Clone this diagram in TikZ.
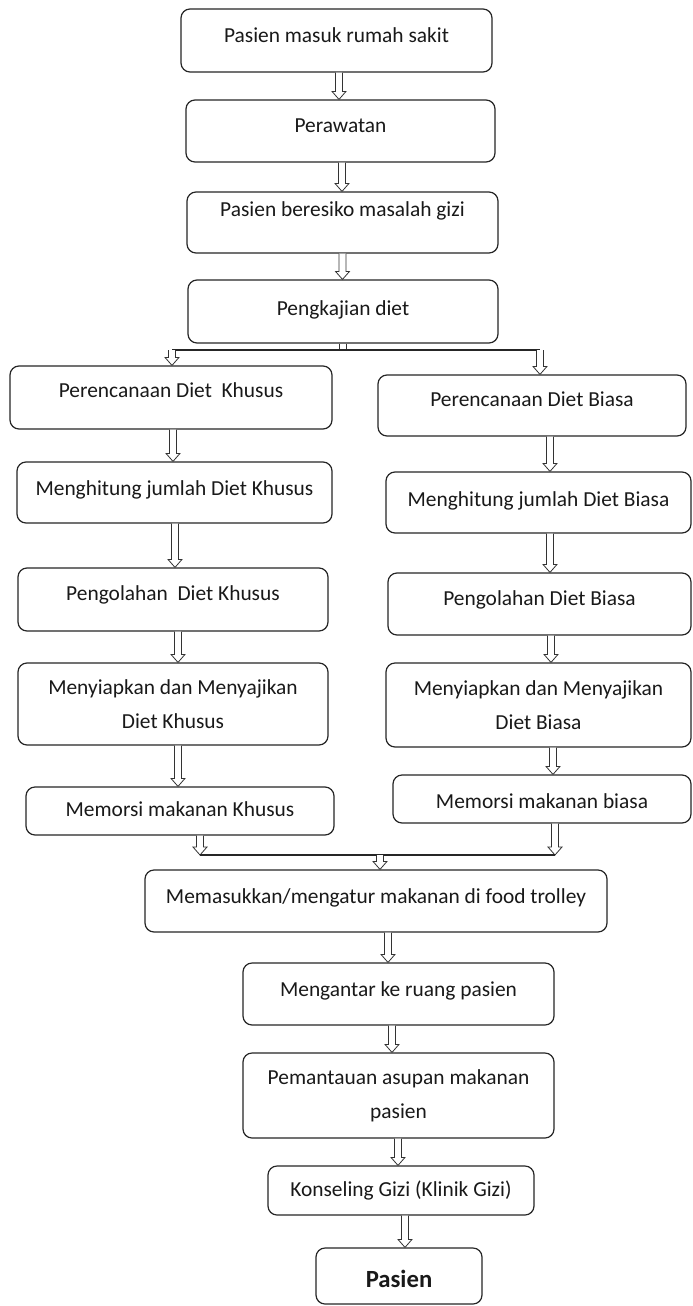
\documentclass[tikz,border=0pt]{standalone}
\usepackage{fontspec}
\setmainfont{Carlito}
\usetikzlibrary{calc}
\tikzset{
  box/.style={draw=black!85, line width=1.2pt, rounded corners=9pt, align=center, inner sep=0pt,
    font=\fontsize{21.4}{34}\selectfont, text=black!90},
  bl/.style={text height=20pt, text depth=#1},
  harrow/.style={draw=black!80, line width=0.8pt, fill=white,
    to path={let \p1=(\tikztostart), \p2=(\tikztotarget) in
      (\x1-3.5pt,\y1) -- (\x1-3.5pt,\y2+8pt) -- (\x1-7pt,\y2+8pt) -- (\x1,\y2)
      -- (\x1+7pt,\y2+8pt) -- (\x1+3.5pt,\y2+8pt) -- (\x1+3.5pt,\y1)}},
  shaft/.style={draw=black!80, line width=0.8pt,
    to path={let \p1=(\tikztostart), \p2=(\tikztotarget) in
      (\x1-3.5pt,\y1) -- (\x1-3.5pt,\y2) (\x1+3.5pt,\y1) -- (\x1+3.5pt,\y2)}},
  hline/.style={draw=black!85, line width=1.1pt}
}
\begin{document}
\begin{tikzpicture}[x=1pt,y=-1pt]
\fill[white] (0,0) rectangle (693,1306);
\useasboundingbox (0,0) rectangle (693,1306);

% main column top
\node[box, bl=15pt, minimum width=311pt, minimum height=63pt] (b1) at (336.5,40.5) {Pasien masuk rumah sakit};
\node[box, bl=18pt, minimum width=309pt, minimum height=62pt] (b2) at (340.5,131) {Perawatan};
\node[box, bl=32pt, minimum width=311pt, minimum height=61pt] (b3) at (342.5,222.5) {Pasien beresiko masalah gizi};
\node[box, bl=13pt, minimum width=310pt, minimum height=63pt] (b4) at (343,311.5) {Pengkajian diet};

% left column
\node[box, bl=20pt, minimum width=322pt, minimum height=63pt] (l1) at (171,397.5) {Perencanaan Diet~ Khusus};
\node[box, bl=15pt, minimum width=315pt, minimum height=61pt] (l2) at (174.5,492.5) {Menghitung jumlah Diet Khusus};
\node[box, bl=19pt, minimum width=310pt, minimum height=63pt] (l3) at (173,599.5) {Pengolahan~ Diet Khusus};
\node[box, minimum width=310pt, minimum height=82pt] (l4) at (173,704) {Menyiapkan dan Menyajikan\\Diet Khusus};
\node[box, bl=8.6pt, minimum width=308pt, minimum height=48pt] (l5) at (180,811) {Memorsi makanan Khusus};

% right column
\node[box, bl=17.6pt, minimum width=308pt, minimum height=61pt] (r1) at (532,405.5) {Perencanaan Diet Biasa};
\node[box, bl=11.6pt, minimum width=305pt, minimum height=61pt] (r2) at (538.5,502.5) {Menghitung jumlah Diet Biasa};
\node[box, bl=18pt, minimum width=303pt, minimum height=62pt] (r3) at (539.5,604) {Pengolahan Diet Biasa};
\node[box, minimum width=305pt, minimum height=84pt] (r4) at (538.5,705) {Menyiapkan dan Menyajikan\\Diet Biasa};
\node[box, bl=2pt, minimum width=298pt, minimum height=48pt] (r5) at (542,799) {Memorsi makanan biasa};

% bottom column
\node[box, bl=15.4pt, minimum width=462pt, minimum height=62pt] (m1) at (376,901) {Memasukkan/mengatur makanan di food trolley};
\node[box, bl=14.6pt, minimum width=311pt, minimum height=62pt] (m2) at (398.5,994) {Mengantar ke ruang pasien};
\node[box, minimum width=311pt, minimum height=85pt] (m3) at (398.5,1095.5) {Pemantauan asupan makanan\\pasien};
\node[box, bl=8pt, minimum width=266pt, minimum height=49pt] (m4) at (401,1190.5) {Konseling Gizi (Klinik Gizi)};
\node[box, text height=26pt, text depth=4pt, minimum width=166pt, minimum height=56pt,
      font=\fontsize{24.7}{30}\selectfont\bfseries] (m5) at (399,1276) {Pasien};

% junction points
\coordinate (splitC) at (343,350);
\coordinate (splitL) at (172,350);
\coordinate (splitR) at (540,350);
\coordinate (mergeL) at (200,855);
\coordinate (mergeR) at (555,855);
\coordinate (mergeC) at (380,855);

% arrows top
\draw[harrow] ([xshift=2.5pt]b1.south) to (b2.north);
\draw[harrow] ([xshift=1.5pt]b2.south) to (b3.north);
\draw[harrow] (b3.south) to (b4.north);
\draw[shaft] (b4.south) to (splitC);
\draw[hline] (splitL) -- (splitR);
\draw[harrow] (splitL) to (l1.north);
\draw[harrow] (splitR) to (r1.north);

% left arrows
\draw[harrow] ([xshift=2pt]l1.south) to (l2.north);
\draw[harrow] ([xshift=0.5pt]l2.south) to (l3.north);
\draw[harrow] ([xshift=5pt]l3.south) to (l4.north);
\draw[harrow] ([xshift=5pt]l4.south) to (l5.north);
\draw[harrow] ([xshift=20pt]l5.south) to (mergeL);

% right arrows
\draw[harrow] ([xshift=18pt]r1.south) to (r2.north);
\draw[harrow] ([xshift=11.5pt]r2.south) to (r3.north);
\draw[harrow] ([xshift=11.5pt]r3.south) to (r4.north);
\draw[harrow] ([xshift=14.5pt]r4.south) to (r5.north);
\draw[harrow] ([xshift=13pt]r5.south) to (mergeR);

% merge
\draw[hline] (mergeL) -- (mergeR);
\draw[harrow] (mergeC) to (m1.north);

% bottom arrows
\draw[harrow] ([xshift=12pt]m1.south) to (m2.north);
\draw[harrow] ([xshift=-6.5pt]m2.south) to (m3.north);
\draw[harrow] ([xshift=-0.5pt]m3.south) to (m4.north);
\draw[harrow] ([xshift=4pt]m4.south) to (m5.north);
\end{tikzpicture}
\end{document}
